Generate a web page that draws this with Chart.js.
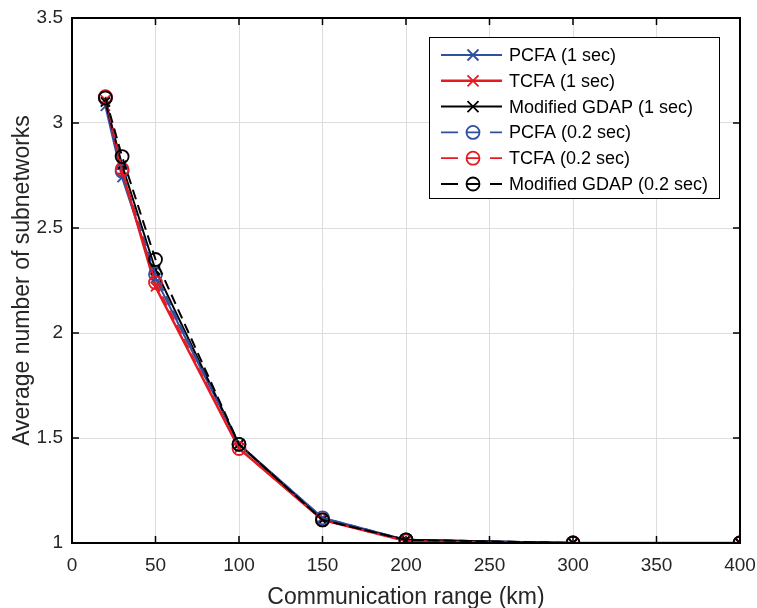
<!DOCTYPE html>
<html>
<head>
<meta charset="utf-8">
<script src="https://cdn.jsdelivr.net/npm/chart.js@4"></script>
<style>
  html, body { margin: 0; padding: 0; background: #fff; }
  #wrap { width: 757px; height: 608px; }
</style>
</head>
<body>
<div id="wrap"><canvas id="chart" width="757" height="608"></canvas></div>
<script>
// data
const ranges = [20, 30, 50, 100, 150, 200, 300, 400];
const pcfa1 = [3.08, 2.74, 2.26, 1.47, 1.12, 1.015, 1.0, 1.0];
const tcfa1 = [3.11, 2.77, 2.22, 1.45, 1.11, 1.01, 1.0, 1.0];
const gdap1 = [3.10, 2.80, 2.30, 1.47, 1.11, 1.015, 1.0, 1.0];
const pcfa02 = [3.12, 2.77, 2.28, 1.47, 1.12, 1.015, 1.0, 1.0];
const tcfa02 = [3.125, 2.78, 2.24, 1.45, 1.11, 1.01, 1.0, 1.0];
const gdap02 = [3.12, 2.84, 2.35, 1.47, 1.11, 1.015, 1.0, 1.0];
const seriesNames = ['PCFA (1 sec)', 'TCFA (1 sec)', 'Modified GDAP (1 sec)',
                     'PCFA (0.2 sec)', 'TCFA (0.2 sec)', 'Modified GDAP (0.2 sec)'];
const xTicks = [0, 50, 100, 150, 200, 250, 300, 350, 400];
const yTicks = [1, 1.5, 2, 2.5, 3, 3.5];

const BLUE = '#2f4f9f';
const RED = '#e41b23';
const BLACK = '#000000';
const FONT = '"Liberation Sans", Arial, sans-serif';
const TXT = '#262626';

function pts(vals) {
  return ranges.map((x, i) => ({ x: x, y: vals[i] }));
}

const styles = [
  { color: BLUE, dash: [], marker: 'crossRot', width: 2 },
  { color: RED, dash: [], marker: 'crossRot', width: 2.5 },
  { color: BLACK, dash: [], marker: 'crossRot', width: 2 },
  { color: BLUE, dash: [10, 6], marker: 'circle', width: 1.8 },
  { color: RED, dash: [10, 6], marker: 'circle', width: 1.8 },
  { color: BLACK, dash: [10, 6], marker: 'circle', width: 2 }
];
const allVals = [pcfa1, tcfa1, gdap1, pcfa02, tcfa02, gdap02];

const datasets = allVals.map((v, i) => ({
  label: seriesNames[i],
  data: pts(v),
  borderColor: styles[i].color,
  backgroundColor: 'rgba(0,0,0,0)',
  borderWidth: styles[i].width,
  borderDash: styles[i].dash,
  pointStyle: styles[i].marker,
  pointRadius: 6.5,
  pointBorderWidth: 1.8,
  pointBorderColor: styles[i].color,
  pointBackgroundColor: 'rgba(0,0,0,0)',
  tension: 0,
  order: 5 - i
}));

// box, inward ticks and legend like the original figure
const decor = {
  id: 'decor',
  afterDraw(chart) {
    const c = chart.ctx;
    const a = chart.chartArea;
    const xs = chart.scales.x, ys = chart.scales.y;
    c.save();
    c.strokeStyle = '#000';
    c.lineWidth = 2;
    c.strokeRect(a.left, a.top, a.right - a.left, a.bottom - a.top);
    c.lineWidth = 1.5;
    c.beginPath();
    xTicks.forEach(t => {
      const px = xs.getPixelForValue(t);
      c.moveTo(px, a.bottom); c.lineTo(px, a.bottom - 7);
      c.moveTo(px, a.top); c.lineTo(px, a.top + 7);
    });
    yTicks.forEach(t => {
      const py = ys.getPixelForValue(t);
      c.moveTo(a.left, py); c.lineTo(a.left + 7, py);
      c.moveTo(a.right, py); c.lineTo(a.right - 7, py);
    });
    c.stroke();

    // legend
    const lx = 429, ly = 37, lw = 290, lh = 161;
    c.fillStyle = '#fff';
    c.fillRect(lx, ly, lw, lh);
    c.lineWidth = 1;
    c.strokeStyle = '#000';
    c.strokeRect(lx + 0.5, ly + 0.5, lw, lh);
    c.font = '18px ' + FONT;
    c.textBaseline = 'middle';
    seriesNames.forEach((name, i) => {
      const st = styles[i];
      const y = ly + 18 + i * 25.8;
      c.strokeStyle = st.color;
      c.lineWidth = st.width;
      c.beginPath();
      if (st.dash.length) {
        c.moveTo(lx + 12, y); c.lineTo(lx + 29, y);
        c.moveTo(lx + 61, y); c.lineTo(lx + 73, y);
      } else {
        c.moveTo(lx + 12, y); c.lineTo(lx + 73, y);
      }
      c.stroke();
      c.lineWidth = 1.8;
      c.beginPath();
      const x0 = lx + 44;
      if (st.marker === 'crossRot') {
        c.moveTo(x0 - 5.5, y - 5.5); c.lineTo(x0 + 5.5, y + 5.5);
        c.moveTo(x0 + 5.5, y - 5.5); c.lineTo(x0 - 5.5, y + 5.5);
      } else {
        c.arc(x0, y, 6.5, 0, Math.PI * 2);
        c.moveTo(x0 - 6.5, y); c.lineTo(x0 + 6.5, y);
      }
      c.stroke();
      c.fillStyle = '#000';
      c.fillText(name, lx + 80, y + 1);
    });
    c.restore();
  }
};

new Chart(document.getElementById('chart'), {
  type: 'line',
  data: { datasets: datasets },
  options: {
    responsive: false,
    animation: false,
    layout: { autoPadding: false, padding: { left: 0, top: 18, right: 17, bottom: 0 } },
    plugins: { legend: { display: false }, tooltip: { enabled: false } },
    scales: {
      x: {
        type: 'linear',
        min: 0, max: 400,
        afterBuildTicks: s => { s.ticks = xTicks.map(v => ({ value: v })); },
        afterFit: s => { s.height = 65; s.paddingLeft = 0; s.paddingRight = 0; },
        grid: { color: '#dedede', lineWidth: 1, drawTicks: false },
        border: { display: false },
        ticks: { color: TXT, font: { family: FONT, size: 19 }, padding: 11, maxRotation: 0,
                 callback: v => String(v) },
        title: { display: true, text: 'Communication range (km)', color: TXT,
                 font: { family: FONT, size: 23, lineHeight: 0.9 }, padding: { top: 0, bottom: 0 } }
      },
      y: {
        type: 'linear',
        min: 1, max: 3.5,
        afterBuildTicks: s => { s.ticks = yTicks.map(v => ({ value: v })); },
        afterFit: s => { s.width = 72; s.paddingTop = 0; s.paddingBottom = 0; },
        grid: { color: '#dedede', lineWidth: 1, drawTicks: false },
        border: { display: false },
        ticks: { color: TXT, font: { family: FONT, size: 19 }, padding: 9,
                 callback: v => String(v) },
        title: { display: true, text: 'Average number of subnetworks', color: TXT,
                 font: { family: FONT, size: 23, lineHeight: 1 }, padding: { top: 11, bottom: 0 } }
      }
    }
  },
  plugins: [decor]
});
</script>
</body>
</html>
